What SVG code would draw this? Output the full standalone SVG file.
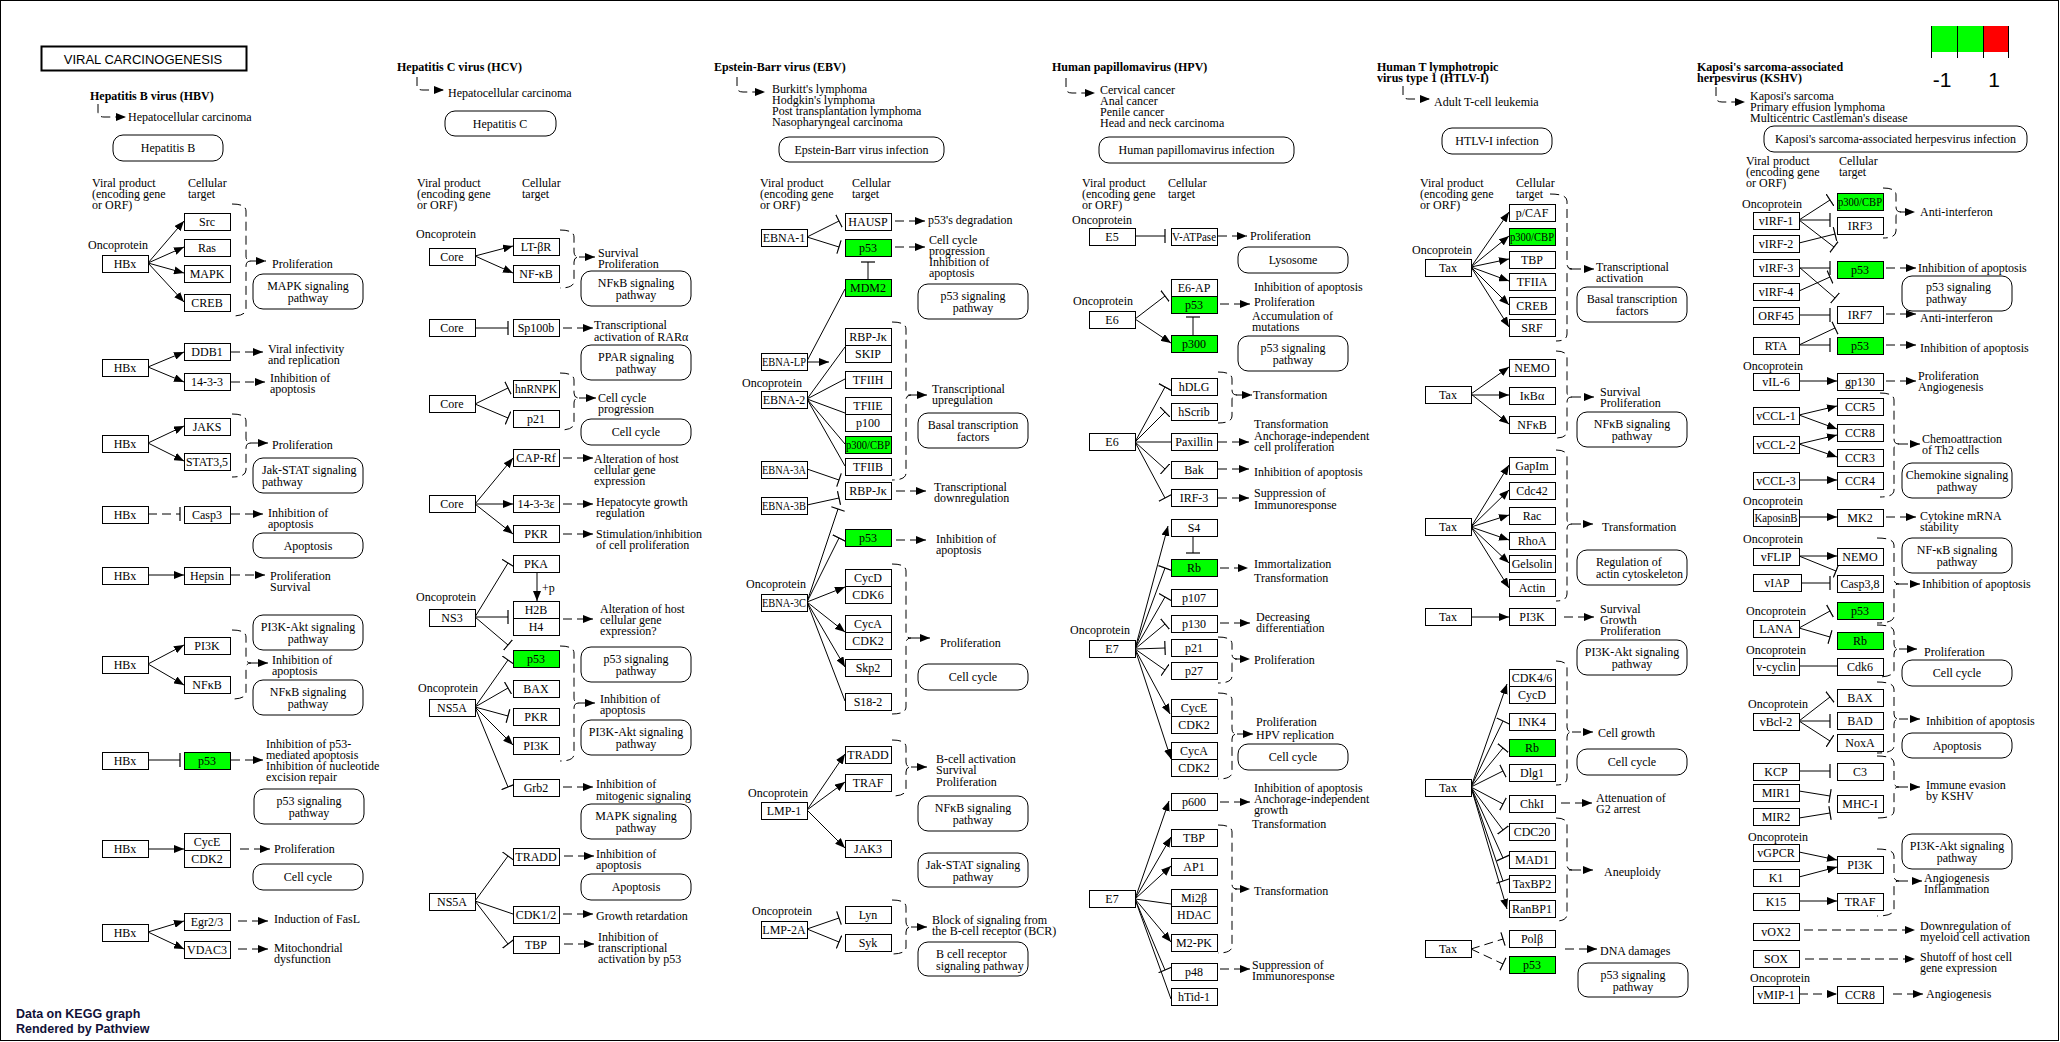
<svg xmlns="http://www.w3.org/2000/svg" width="2060" height="1042" viewBox="0 0 2060 1042">
<style>
.f{fill:#fff;stroke:#000;stroke-width:1;shape-rendering:crispEdges}
.gr{fill:#00ff00}
.pw{fill:#fff;stroke:#000;stroke-width:1}
text{font-family:"Liberation Serif","Times New Roman",serif;font-size:12px;fill:#000}
.m{text-anchor:middle}
.h{font-weight:bold}
.l{fill:none;stroke:#000;stroke-width:1}
.d{stroke-dasharray:9 5}
.a{marker-end:url(#ar)}
.i{marker-end:url(#ib)}
.sans{font-family:"Liberation Sans",Arial,sans-serif}
</style>
<defs>
<marker id="ar" viewBox="0 0 10 8" refX="10" refY="4" markerWidth="10" markerHeight="8" markerUnits="userSpaceOnUse" orient="auto"><path d="M0,0L10,4L0,8z" fill="#000"/></marker>
<marker id="ib" viewBox="-1 -7 2 14" refX="0" refY="0" markerWidth="2" markerHeight="14" markerUnits="userSpaceOnUse" orient="auto"><path d="M0,-7V7" stroke="#000" stroke-width="1.2" fill="none"/></marker>
</defs>
<rect x="0.5" y="0.5" width="2058" height="1040" fill="#fff" stroke="#000" stroke-width="1"/>
<g id="title"><rect x="41.5" y="46.5" width="205" height="24" fill="#fff" stroke="#000" stroke-width="2"/><text class="sans m" x="143" y="64" style="font-size:13px">VIRAL  CARCINOGENESIS</text></g>
<g id="legend"><rect x="1931" y="26" width="26" height="26" fill="#00ff00"/><rect x="1957" y="26" width="26" height="26" fill="#00ff00"/><rect x="1983" y="26" width="25" height="26" fill="#ff0000"/><path class="l" d="M1931.5,26V58M1957.5,26V58M1983.5,26V58M2008.5,26V58"/><text class="sans m" x="1942" y="87" style="font-size:21px">-1</text><text class="sans m" x="1994" y="87" style="font-size:21px">1</text></g>
<g id="footer"><text class="sans h" x="16" y="1018" style="font-size:12.5px;fill:#111138">Data on KEGG graph</text><text class="sans h" x="16" y="1033" style="font-size:12.5px;fill:#111138">Rendered by Pathview</text></g>

<g id="connectors">
<!-- HBV -->
<path class="l d a" d="M98,104V112Q98,117 104,117H126"/>
<path class="l a" d="M148,263L184,221"/><path class="l a" d="M148,263L184,247"/><path class="l a" d="M148,263L184,273"/><path class="l a" d="M148,263L184,302"/>
<path class="l d" d="M232,204Q246,204 246,211V256Q246,261 251,261Q246,261 246,266V309Q246,316 232,316"/><path class="l d a" d="M251,261H266"/>
<path class="l a" d="M148,367L184,352"/><path class="l a" d="M148,367L184,382"/>
<path class="l d a" d="M231,352H263"/><path class="l d a" d="M231,382H265"/>
<path class="l a" d="M148,443L184,426"/><path class="l a" d="M148,443L184,461"/>
<path class="l d" d="M232,414Q246,414 246,421V438Q246,443 251,443Q246,443 246,448V470Q246,477 232,477"/><path class="l d a" d="M251,443H268"/>
<path class="l d i" d="M148,514H180"/><path class="l d a" d="M231,514H263"/>
<path class="l a" d="M148,575H184"/><path class="l d a" d="M231,575H265"/>
<path class="l a" d="M148,664L184,645"/><path class="l a" d="M148,664L184,685"/>
<path class="l d" d="M232,630Q246,630 246,637V658Q246,663 251,663Q246,663 246,668V692Q246,699 232,699"/><path class="l d a" d="M251,663H268"/>
<path class="l i" d="M148,760H180"/><path class="l d a" d="M231,760H263"/>
<path class="l a" d="M148,849H184"/><path class="l d a" d="M240,849H270"/>
<path class="l a" d="M148,932L184,921"/><path class="l a" d="M148,932L184,949"/>
<path class="l d a" d="M238,921H268"/><path class="l d a" d="M238,949H268"/>
<!-- HCV -->
<path class="l d a" d="M417,77V86Q417,90 423,90H444"/>
<path class="l a" d="M475,256L513,246"/><path class="l a" d="M475,256L513,273"/>
<path class="l d" d="M560,230Q574,230 574,237V252Q574,257 579,257Q574,257 574,262V281Q574,288 560,288"/><path class="l d a" d="M579,257H595"/>
<path class="l i" d="M475,328H508"/><path class="l d a" d="M563,328H593"/>
<path class="l i" d="M475,404L508,388"/><path class="l i" d="M475,404L508,418"/>
<path class="l d" d="M560,373Q574,373 574,380V393Q574,398 579,398Q574,398 574,403V423Q574,430 560,430"/><path class="l d a" d="M579,398H596"/>
<path class="l a" d="M475,504L513,458"/><path class="l a" d="M475,504H513"/><path class="l a" d="M475,504L513,534"/>
<path class="l d a" d="M563,458H593"/><path class="l d a" d="M563,504H593"/><path class="l d a" d="M563,534H593"/>
<path class="l a" d="M537,572V601"/>
<path class="l i" d="M475,617L508,563"/><path class="l i" d="M475,617H508"/><path class="l i" d="M475,617L508,645"/>
<path class="l d a" d="M563,619H593"/>
<path class="l i" d="M475,707L508,660"/><path class="l i" d="M475,707L508,688"/><path class="l i" d="M475,707L508,716"/><path class="l a" d="M475,707L513,745"/><path class="l i" d="M475,707L508,787"/>
<path class="l d" d="M560,646Q574,646 574,653V698Q574,703 579,703Q574,703 574,708V754Q574,761 560,761"/><path class="l d a" d="M579,703H595"/>
<path class="l d a" d="M563,787H593"/>
<path class="l i" d="M475,901L508,856"/><path class="l" d="M475,901L513,914"/><path class="l i" d="M475,901L508,944"/>
<path class="l d a" d="M564,856H594"/><path class="l d a" d="M563,914H593"/><path class="l d a" d="M564,944H594"/>
<!-- EBV -->
<path class="l d a" d="M737,77V87Q737,92 743,92H765"/>
<path class="l i" d="M807,237L839,221"/><path class="l i" d="M807,237L839,247"/>
<path class="l d a" d="M895,221H925"/><path class="l d a" d="M895,247H925"/>
<path class="l i" d="M868,279V262"/>
<path class="l" d="M807,361L845,289"/><path class="l a" d="M807,362H829"/>
<path class="l" d="M807,399L845,347"/><path class="l" d="M807,399L845,379"/><path class="l" d="M807,399L845,413"/><path class="l" d="M807,399L845,444"/><path class="l" d="M807,399L845,466"/>
<path class="l d" d="M892,322Q906,322 906,329V390Q906,395 911,395Q906,395 906,400V473Q906,480 892,480"/><path class="l d a" d="M911,395H927"/>
<path class="l i" d="M807,469L839,480"/><path class="l i" d="M807,505L839,498"/>
<path class="l d a" d="M896,491H926"/>
<path class="l i" d="M807,602L838,509"/><path class="l i" d="M807,602L839,538"/>
<path class="l d a" d="M896,540H926"/>
<path class="l a" d="M807,602L845,587"/><path class="l a" d="M807,602L845,632"/><path class="l a" d="M807,602L845,667"/><path class="l" d="M807,602L845,701"/>
<path class="l d" d="M892,564Q906,564 906,571V633Q906,638 911,638Q906,638 906,643V707Q906,714 892,714"/><path class="l d a" d="M911,638H930"/>
<path class="l a" d="M807,810L845,754"/><path class="l a" d="M807,810L845,782"/><path class="l a" d="M807,810L845,848"/>
<path class="l d" d="M892,740Q906,740 906,747V762Q906,767 911,767Q906,767 906,772V789Q906,796 892,796"/><path class="l d a" d="M911,767H927"/>
<path class="l i" d="M807,929L839,918"/><path class="l i" d="M807,929L839,942"/>
<path class="l d" d="M892,900Q906,900 906,907V922Q906,927 911,927Q906,927 906,932V947Q906,954 892,954"/><path class="l d a" d="M911,927H927"/>
<!-- HPV -->
<path class="l d a" d="M1066,78V88Q1066,93 1072,93H1095"/>
<path class="l i" d="M1135,236H1165"/><path class="l d a" d="M1218,236H1247"/>
<path class="l i" d="M1135,319L1165,296"/><path class="l a" d="M1135,319L1171,343"/><path class="l i" d="M1193,335V317"/><path class="l d a" d="M1220,304H1250"/>
<path class="l i" d="M1135,442L1165,387"/><path class="l i" d="M1135,442L1165,412"/><path class="l" d="M1135,442H1171"/><path class="l i" d="M1135,442L1165,469"/><path class="l i" d="M1135,442L1165,498"/>
<path class="l d" d="M1218,372Q1232,372 1232,379V390Q1232,395 1237,395Q1232,395 1232,400V416Q1232,423 1218,423"/><path class="l d a" d="M1237,395H1252"/>
<path class="l d a" d="M1218,442H1249"/><path class="l d a" d="M1218,469H1249"/><path class="l d a" d="M1218,498H1249"/>
<path class="l i" d="M1193,536V553"/>
<path class="l a" d="M1135,649L1168,526"/><path class="l i" d="M1135,649L1165,568"/><path class="l i" d="M1135,649L1165,597"/><path class="l i" d="M1135,649L1165,624"/><path class="l i" d="M1135,649L1165,648"/><path class="l i" d="M1135,649L1165,670"/><path class="l a" d="M1135,649L1170,714"/><path class="l a" d="M1135,649L1171,759"/>
<path class="l d a" d="M1220,568H1248"/><path class="l d a" d="M1220,623H1250"/>
<path class="l d" d="M1218,637Q1232,637 1232,644V654Q1232,659 1237,659Q1232,659 1232,664V676Q1232,683 1218,683"/><path class="l d a" d="M1237,659H1250"/>
<path class="l d" d="M1218,693Q1232,693 1232,700V729Q1232,734 1237,734Q1232,734 1232,739V772Q1232,779 1218,779"/><path class="l d a" d="M1237,734H1253"/>
<path class="l a" d="M1135,899L1169,801"/><path class="l a" d="M1135,899L1171,837"/><path class="l a" d="M1135,899L1171,866"/><path class="l" d="M1135,899L1171,904"/><path class="l a" d="M1135,899L1171,942"/><path class="l i" d="M1135,899L1165,970"/><path class="l" d="M1135,899L1171,999"/>
<path class="l d a" d="M1220,802H1250"/>
<path class="l d" d="M1218,825Q1232,825 1232,832V884Q1232,889 1237,889Q1232,889 1232,894V946Q1232,953 1218,953"/><path class="l d a" d="M1237,889H1250"/>
<path class="l d a" d="M1220,969H1250"/>
<!-- HTLV -->
<path class="l d a" d="M1403,86V95Q1403,99 1409,99H1430"/>
<path class="l a" d="M1471,267L1509,212"/><path class="l a" d="M1471,267L1509,236"/><path class="l a" d="M1471,267L1509,259"/><path class="l a" d="M1471,267L1509,281"/><path class="l a" d="M1471,267L1509,305"/><path class="l a" d="M1471,267L1509,327"/>
<path class="l d" d="M1550,194Q1567,194 1567,201V264Q1567,269 1572,269Q1567,269 1567,274V334Q1567,341 1556,341"/><path class="l d a" d="M1572,269H1594"/>
<path class="l a" d="M1471,394L1509,367"/><path class="l a" d="M1471,395H1509"/><path class="l a" d="M1471,394L1509,424"/>
<path class="l d" d="M1556,351Q1567,351 1567,358V392Q1567,397 1572,397Q1567,397 1567,402V431Q1567,438 1556,438"/><path class="l d a" d="M1572,397H1594"/>
<path class="l a" d="M1471,527L1509,465"/><path class="l a" d="M1471,527L1509,490"/><path class="l a" d="M1471,527L1509,515"/><path class="l a" d="M1471,527L1509,540"/><path class="l a" d="M1471,527L1509,563"/><path class="l a" d="M1471,527L1509,588"/>
<path class="l d" d="M1556,450Q1567,450 1567,457V519Q1567,524 1572,524Q1567,524 1567,529V594Q1567,601 1556,601"/><path class="l d a" d="M1572,524H1593"/>
<path class="l a" d="M1471,617H1509"/><path class="l d a" d="M1564,617H1594"/>
<path class="l a" d="M1471,787L1507,684"/><path class="l i" d="M1471,787L1503,721"/><path class="l i" d="M1471,787L1503,748"/><path class="l i" d="M1471,787L1503,771"/><path class="l i" d="M1471,787L1503,804"/><path class="l i" d="M1471,787L1503,830"/><path class="l i" d="M1471,787L1503,858"/><path class="l i" d="M1471,787L1503,881"/><path class="l a" d="M1471,787L1507,909"/>
<path class="l d" d="M1556,661Q1567,661 1567,668V727Q1567,732 1572,732Q1567,732 1567,737V778Q1567,785 1556,785"/><path class="l d a" d="M1572,732H1593"/>
<path class="l d a" d="M1561,803H1592"/>
<path class="l d" d="M1556,818Q1567,818 1567,825V865Q1567,870 1572,870Q1567,870 1567,875V914Q1567,921 1556,921"/><path class="l d a" d="M1572,870H1593"/>
<path class="l d i" d="M1471,949L1503,939"/><path class="l d i" d="M1471,949L1503,964"/>
<path class="l d a" d="M1565,949H1597"/>
<!-- KSHV -->
<path class="l d a" d="M1716,87V97Q1716,102 1722,102H1745"/>
<path class="l i" d="M1799,220L1830,200"/><path class="l i" d="M1799,220H1830"/><path class="l i" d="M1799,220L1834,247"/>
<path class="l i" d="M1799,243L1835,234"/>
<path class="l i" d="M1799,268H1830"/><path class="l i" d="M1799,267L1835,298"/>
<path class="l i" d="M1799,291L1830,277"/>
<path class="l i" d="M1799,315H1830"/>
<path class="l i" d="M1799,345L1835,328"/><path class="l i" d="M1799,345H1830"/>
<path class="l d" d="M1883,188Q1896,188 1896,195V207Q1896,212 1901,212Q1896,212 1896,217V231Q1896,238 1883,238"/><path class="l d a" d="M1901,212H1915"/>
<path class="l d a" d="M1886,268H1916"/><path class="l d a" d="M1886,314H1916"/><path class="l d a" d="M1886,345H1916"/>
<path class="l a" d="M1799,381H1837"/><path class="l d a" d="M1886,381H1916"/>
<path class="l a" d="M1799,415L1837,406"/><path class="l a" d="M1799,415L1837,429"/><path class="l a" d="M1799,444L1837,435"/><path class="l a" d="M1799,444L1837,457"/><path class="l a" d="M1799,480H1837"/>
<path class="l d" d="M1880,393Q1894,393 1894,400V439Q1894,444 1899,444Q1894,444 1894,449V490Q1894,497 1880,497"/><path class="l d a" d="M1899,444H1920"/>
<path class="l a" d="M1799,517H1837"/><path class="l d a" d="M1886,517H1916"/>
<path class="l a" d="M1799,556H1837"/><path class="l i" d="M1799,556L1836,571"/><path class="l i" d="M1799,583H1830"/>
<path class="l d" d="M1877,538Q1894,538 1894,545V579Q1894,584 1899,584Q1894,584 1894,589V616Q1894,623 1877,623"/><path class="l d a" d="M1899,584H1920"/>
<path class="l i" d="M1799,628L1830,611"/><path class="l i" d="M1799,628L1830,637"/>
<path class="l" d="M1799,666H1837"/>
<path class="l d" d="M1877,625Q1894,625 1894,632V644Q1894,649 1899,649Q1894,649 1894,654V670Q1894,677 1877,677"/><path class="l d a" d="M1899,649H1917"/>
<path class="l i" d="M1799,721L1830,697"/><path class="l i" d="M1799,721H1830"/><path class="l i" d="M1799,721L1830,741"/>
<path class="l d" d="M1877,682Q1894,682 1894,689V714Q1894,719 1899,719Q1894,719 1894,724V746Q1894,753 1877,753"/><path class="l d a" d="M1899,719H1920"/>
<path class="l i" d="M1799,771H1830"/><path class="l i" d="M1799,791L1830,796"/><path class="l i" d="M1799,818L1830,813"/>
<path class="l d" d="M1877,756Q1894,756 1894,763V782Q1894,787 1899,787Q1894,787 1894,792V811Q1894,818 1877,818"/><path class="l d a" d="M1899,787H1920"/>
<path class="l a" d="M1799,852L1837,860"/><path class="l a" d="M1799,877L1837,867"/><path class="l a" d="M1799,901H1837"/>
<path class="l d" d="M1877,849Q1894,849 1894,856V876Q1894,881 1899,881Q1894,881 1894,886V909Q1894,916 1877,916"/><path class="l d a" d="M1899,881H1922"/>
<path class="l d a" d="M1804,930H1915"/><path class="l d a" d="M1805,959H1915"/>
<path class="l d a" d="M1799,994H1837"/><path class="l d a" d="M1893,994H1923"/>
</g>

<!-- HBV nodes -->
<g id="hbv-hbx1"><rect class="f" x="102" y="255" width="46" height="17"/><text class="m" x="125" y="268">HBx</text></g>
<g id="hbv-src"><rect class="f" x="184" y="213" width="46" height="17"/><text class="m" x="207" y="226">Src</text></g>
<g id="hbv-ras"><rect class="f" x="184" y="239" width="46" height="17"/><text class="m" x="207" y="252">Ras</text></g>
<g id="hbv-mapk"><rect class="f" x="184" y="265" width="46" height="17"/><text class="m" x="207" y="278">MAPK</text></g>
<g id="hbv-creb"><rect class="f" x="184" y="294" width="46" height="17"/><text class="m" x="207" y="307">CREB</text></g>
<g id="hbv-hbx2"><rect class="f" x="102" y="359" width="46" height="17"/><text class="m" x="125" y="372">HBx</text></g>
<g id="hbv-ddb1"><rect class="f" x="184" y="343" width="46" height="17"/><text class="m" x="207" y="356">DDB1</text></g>
<g id="hbv-1433"><rect class="f" x="184" y="373" width="46" height="17"/><text class="m" x="207" y="386">14-3-3</text></g>
<g id="hbv-hbx3"><rect class="f" x="102" y="435" width="46" height="17"/><text class="m" x="125" y="448">HBx</text></g>
<g id="hbv-jaks"><rect class="f" x="184" y="418" width="46" height="17"/><text class="m" x="207" y="431">JAKS</text></g>
<g id="hbv-stat35"><rect class="f" x="184" y="453" width="46" height="17"/><text class="m" x="207" y="466" textLength="42" lengthAdjust="spacingAndGlyphs">STAT3,5</text></g>
<g id="hbv-hbx4"><rect class="f" x="102" y="506" width="46" height="17"/><text class="m" x="125" y="519">HBx</text></g>
<g id="hbv-casp3"><rect class="f" x="184" y="506" width="46" height="17"/><text class="m" x="207" y="519">Casp3</text></g>
<g id="hbv-hbx5"><rect class="f" x="102" y="567" width="46" height="17"/><text class="m" x="125" y="580">HBx</text></g>
<g id="hbv-hepsin"><rect class="f" x="184" y="567" width="46" height="17"/><text class="m" x="207" y="580">Hepsin</text></g>
<g id="hbv-hbx6"><rect class="f" x="102" y="656" width="46" height="17"/><text class="m" x="125" y="669">HBx</text></g>
<g id="hbv-pi3k"><rect class="f" x="184" y="637" width="46" height="17"/><text class="m" x="207" y="650">PI3K</text></g>
<g id="hbv-nfkb"><rect class="f" x="184" y="676" width="46" height="17"/><text class="m" x="207" y="689">NFκB</text></g>
<g id="hbv-hbx7"><rect class="f" x="102" y="752" width="46" height="17"/><text class="m" x="125" y="765">HBx</text></g>
<g id="hbv-p53"><rect class="f gr" x="184" y="752" width="46" height="17"/><text class="m" x="207" y="765">p53</text></g>
<g id="hbv-hbx8"><rect class="f" x="102" y="840" width="46" height="17"/><text class="m" x="125" y="853">HBx</text></g>
<g id="hbv-cyce-cdk2"><rect class="f" x="184" y="833" width="46" height="17"/><text class="m" x="207" y="846">CycE</text><rect class="f" x="184" y="850" width="46" height="17"/><text class="m" x="207" y="863">CDK2</text></g>
<g id="hbv-hbx9"><rect class="f" x="102" y="924" width="46" height="17"/><text class="m" x="125" y="937">HBx</text></g>
<g id="hbv-egr23"><rect class="f" x="184" y="913" width="46" height="17"/><text class="m" x="207" y="926">Egr2/3</text></g>
<g id="hbv-vdac3"><rect class="f" x="184" y="941" width="46" height="17"/><text class="m" x="207" y="954">VDAC3</text></g>
<g id="pw-hepb"><rect class="pw" x="113" y="135" width="110" height="26" rx="10"/><text class="m" x="168" y="152">Hepatitis B</text></g>
<g id="pw-hbv-mapk"><rect class="pw" x="253" y="274" width="110" height="35" rx="10"/><text class="m"><tspan x="308" y="290">MAPK signaling</tspan><tspan x="308" y="301.5">pathway</tspan></text></g>
<g id="pw-hbv-jak"><rect class="pw" x="253" y="458" width="110" height="35" rx="10"/><text><tspan x="262" y="474">Jak-STAT signaling</tspan><tspan x="262" y="485.5">pathway</tspan></text></g>
<g id="pw-hbv-apop"><rect class="pw" x="253" y="533" width="110" height="25" rx="10"/><text class="m" x="308" y="549.5">Apoptosis</text></g>
<g id="pw-hbv-pi3k"><rect class="pw" x="253" y="615" width="110" height="35" rx="10"/><text class="m"><tspan x="308" y="631">PI3K-Akt signaling</tspan><tspan x="308" y="642.5">pathway</tspan></text></g>
<g id="pw-hbv-nfkb"><rect class="pw" x="253" y="680" width="110" height="35" rx="10"/><text class="m"><tspan x="308" y="696">NFκB signaling</tspan><tspan x="308" y="707.5">pathway</tspan></text></g>
<g id="pw-hbv-p53"><rect class="pw" x="254" y="789" width="110" height="35" rx="10"/><text class="m"><tspan x="309" y="805">p53 signaling</tspan><tspan x="309" y="816.5">pathway</tspan></text></g>
<g id="pw-hbv-cc"><rect class="pw" x="253" y="864" width="110" height="26" rx="10"/><text class="m" x="308" y="881">Cell cycle</text></g>

<!-- HCV nodes -->
<g id="hcv-core1"><rect class="f" x="429" y="248" width="46" height="17"/><text class="m" x="452" y="261">Core</text></g>
<g id="hcv-ltbr"><rect class="f" x="513" y="238" width="46" height="17"/><text class="m" x="536" y="251">LT-βR</text></g>
<g id="hcv-nfkb"><rect class="f" x="513" y="265" width="46" height="17"/><text class="m" x="536" y="278">NF-κB</text></g>
<g id="hcv-core2"><rect class="f" x="429" y="319" width="46" height="17"/><text class="m" x="452" y="332">Core</text></g>
<g id="hcv-sp100b"><rect class="f" x="513" y="319" width="46" height="17"/><text class="m" x="536" y="332">Sp100b</text></g>
<g id="hcv-core3"><rect class="f" x="429" y="395" width="46" height="17"/><text class="m" x="452" y="408">Core</text></g>
<g id="hcv-hnrnpk"><rect class="f" x="513" y="380" width="46" height="17"/><text class="m" x="536" y="393" textLength="42" lengthAdjust="spacingAndGlyphs">hnRNPK</text></g>
<g id="hcv-p21"><rect class="f" x="513" y="410" width="46" height="17"/><text class="m" x="536" y="423">p21</text></g>
<g id="hcv-core4"><rect class="f" x="429" y="495" width="46" height="17"/><text class="m" x="452" y="508">Core</text></g>
<g id="hcv-caprf"><rect class="f" x="513" y="449" width="46" height="17"/><text class="m" x="536" y="462">CAP-Rf</text></g>
<g id="hcv-1433e"><rect class="f" x="513" y="495" width="46" height="17"/><text class="m" x="536" y="508">14-3-3ε</text></g>
<g id="hcv-pkr1"><rect class="f" x="513" y="525" width="46" height="17"/><text class="m" x="536" y="538">PKR</text></g>
<g id="hcv-pka"><rect class="f" x="513" y="555" width="46" height="17"/><text class="m" x="536" y="568">PKA</text></g>
<g id="hcv-h2b-h4"><rect class="f" x="513" y="601" width="46" height="17"/><text class="m" x="536" y="614">H2B</text><rect class="f" x="513" y="618" width="46" height="17"/><text class="m" x="536" y="631">H4</text></g>
<g id="hcv-ns3"><rect class="f" x="429" y="609" width="46" height="17"/><text class="m" x="452" y="622">NS3</text></g>
<g id="hcv-p53"><rect class="f gr" x="513" y="650" width="46" height="17"/><text class="m" x="536" y="663">p53</text></g>
<g id="hcv-ns5a1"><rect class="f" x="429" y="699" width="46" height="17"/><text class="m" x="452" y="712">NS5A</text></g>
<g id="hcv-bax"><rect class="f" x="513" y="680" width="46" height="17"/><text class="m" x="536" y="693">BAX</text></g>
<g id="hcv-pkr2"><rect class="f" x="513" y="708" width="46" height="17"/><text class="m" x="536" y="721">PKR</text></g>
<g id="hcv-pi3k"><rect class="f" x="513" y="737" width="46" height="17"/><text class="m" x="536" y="750">PI3K</text></g>
<g id="hcv-grb2"><rect class="f" x="513" y="779" width="46" height="17"/><text class="m" x="536" y="792">Grb2</text></g>
<g id="hcv-ns5a2"><rect class="f" x="429" y="893" width="46" height="17"/><text class="m" x="452" y="906">NS5A</text></g>
<g id="hcv-tradd"><rect class="f" x="513" y="848" width="46" height="17"/><text class="m" x="536" y="861">TRADD</text></g>
<g id="hcv-cdk12"><rect class="f" x="513" y="906" width="46" height="17"/><text class="m" x="536" y="919">CDK1/2</text></g>
<g id="hcv-tbp"><rect class="f" x="513" y="936" width="46" height="17"/><text class="m" x="536" y="949">TBP</text></g>
<g id="pw-hepc"><rect class="pw" x="445" y="111" width="111" height="25" rx="10"/><text class="m" x="500" y="128">Hepatitis C</text></g>
<g id="pw-hcv-nfkb"><rect class="pw" x="581" y="271" width="110" height="35" rx="10"/><text class="m"><tspan x="636" y="287">NFκB signaling</tspan><tspan x="636" y="298.5">pathway</tspan></text></g>
<g id="pw-hcv-ppar"><rect class="pw" x="581" y="345" width="110" height="35" rx="10"/><text class="m"><tspan x="636" y="361">PPAR signaling</tspan><tspan x="636" y="372.5">pathway</tspan></text></g>
<g id="pw-hcv-cc"><rect class="pw" x="581" y="419" width="110" height="26" rx="10"/><text class="m" x="636" y="436">Cell cycle</text></g>
<g id="pw-hcv-p53"><rect class="pw" x="581" y="647" width="110" height="35" rx="10"/><text class="m"><tspan x="636" y="663">p53 signaling</tspan><tspan x="636" y="674.5">pathway</tspan></text></g>
<g id="pw-hcv-pi3k"><rect class="pw" x="581" y="720" width="110" height="35" rx="10"/><text class="m"><tspan x="636" y="736">PI3K-Akt signaling</tspan><tspan x="636" y="747.5">pathway</tspan></text></g>
<g id="pw-hcv-mapk"><rect class="pw" x="581" y="804" width="110" height="35" rx="10"/><text class="m"><tspan x="636" y="820">MAPK signaling</tspan><tspan x="636" y="831.5">pathway</tspan></text></g>
<g id="pw-hcv-apop"><rect class="pw" x="581" y="874" width="110" height="26" rx="10"/><text class="m" x="636" y="891">Apoptosis</text></g>

<!-- EBV nodes -->
<g id="ebv-ebna1"><rect class="f" x="761" y="229" width="46" height="17"/><text class="m" x="784" y="242">EBNA-1</text></g>
<g id="ebv-hausp"><rect class="f" x="845" y="213" width="46" height="17"/><text class="m" x="868" y="226">HAUSP</text></g>
<g id="ebv-p53a"><rect class="f gr" x="845" y="239" width="46" height="17"/><text class="m" x="868" y="252">p53</text></g>
<g id="ebv-mdm2"><rect class="f gr" x="845" y="279" width="46" height="17"/><text class="m" x="868" y="292">MDM2</text></g>
<g id="ebv-ebnalp"><rect class="f" x="761" y="353" width="46" height="17"/><text class="m" x="784" y="366" textLength="44" lengthAdjust="spacingAndGlyphs">EBNA-LP</text></g>
<g id="ebv-ebna2"><rect class="f" x="761" y="391" width="46" height="17"/><text class="m" x="784" y="404">EBNA-2</text></g>
<g id="ebv-rbpjk-skip"><rect class="f" x="845" y="328" width="46" height="17"/><text class="m" x="868" y="341">RBP-Jκ</text><rect class="f" x="845" y="345" width="46" height="17"/><text class="m" x="868" y="358">SKIP</text></g>
<g id="ebv-tfiih"><rect class="f" x="845" y="371" width="46" height="17"/><text class="m" x="868" y="384">TFIIH</text></g>
<g id="ebv-tfiie-p100"><rect class="f" x="845" y="397" width="46" height="17"/><text class="m" x="868" y="410">TFIIE</text><rect class="f" x="845" y="414" width="46" height="17"/><text class="m" x="868" y="427">p100</text></g>
<g id="ebv-p300cbp"><rect class="f gr" x="845" y="436" width="46" height="17"/><text class="m" x="868" y="449" textLength="44" lengthAdjust="spacingAndGlyphs">p300/CBP</text></g>
<g id="ebv-tfiib"><rect class="f" x="845" y="458" width="46" height="17"/><text class="m" x="868" y="471">TFIIB</text></g>
<g id="ebv-ebna3a"><rect class="f" x="761" y="461" width="46" height="17"/><text class="m" x="784" y="474" textLength="44" lengthAdjust="spacingAndGlyphs">EBNA-3A</text></g>
<g id="ebv-rbpjk2"><rect class="f" x="845" y="482" width="46" height="17"/><text class="m" x="868" y="495">RBP-Jκ</text></g>
<g id="ebv-ebna3b"><rect class="f" x="761" y="497" width="46" height="17"/><text class="m" x="784" y="510" textLength="44" lengthAdjust="spacingAndGlyphs">EBNA-3B</text></g>
<g id="ebv-p53b"><rect class="f gr" x="845" y="529" width="46" height="17"/><text class="m" x="868" y="542">p53</text></g>
<g id="ebv-ebna3c"><rect class="f" x="761" y="594" width="46" height="17"/><text class="m" x="784" y="607" textLength="44" lengthAdjust="spacingAndGlyphs">EBNA-3C</text></g>
<g id="ebv-cycd-cdk6"><rect class="f" x="845" y="569" width="46" height="17"/><text class="m" x="868" y="582">CycD</text><rect class="f" x="845" y="586" width="46" height="17"/><text class="m" x="868" y="599">CDK6</text></g>
<g id="ebv-cyca-cdk2"><rect class="f" x="845" y="615" width="46" height="17"/><text class="m" x="868" y="628">CycA</text><rect class="f" x="845" y="632" width="46" height="17"/><text class="m" x="868" y="645">CDK2</text></g>
<g id="ebv-skp2"><rect class="f" x="845" y="659" width="46" height="17"/><text class="m" x="868" y="672">Skp2</text></g>
<g id="ebv-s182"><rect class="f" x="845" y="693" width="46" height="17"/><text class="m" x="868" y="706">S18-2</text></g>
<g id="ebv-lmp1"><rect class="f" x="761" y="802" width="46" height="17"/><text class="m" x="784" y="815">LMP-1</text></g>
<g id="ebv-tradd"><rect class="f" x="845" y="746" width="46" height="17"/><text class="m" x="868" y="759">TRADD</text></g>
<g id="ebv-traf"><rect class="f" x="845" y="774" width="46" height="17"/><text class="m" x="868" y="787">TRAF</text></g>
<g id="ebv-jak3"><rect class="f" x="845" y="840" width="46" height="17"/><text class="m" x="868" y="853">JAK3</text></g>
<g id="ebv-lmp2a"><rect class="f" x="761" y="921" width="46" height="17"/><text class="m" x="784" y="934">LMP-2A</text></g>
<g id="ebv-lyn"><rect class="f" x="845" y="906" width="46" height="17"/><text class="m" x="868" y="919">Lyn</text></g>
<g id="ebv-syk"><rect class="f" x="845" y="934" width="46" height="17"/><text class="m" x="868" y="947">Syk</text></g>
<g id="pw-ebv"><rect class="pw" x="779" y="137" width="165" height="25" rx="10"/><text class="m" x="861.5" y="154">Epstein-Barr virus infection</text></g>
<g id="pw-ebv-p53"><rect class="pw" x="918" y="284" width="110" height="35" rx="10"/><text class="m"><tspan x="973" y="300">p53 signaling</tspan><tspan x="973" y="311.5">pathway</tspan></text></g>
<g id="pw-ebv-btf"><rect class="pw" x="918" y="413" width="110" height="35" rx="10"/><text class="m"><tspan x="973" y="429">Basal transcription</tspan><tspan x="973" y="440.5">factors</tspan></text></g>
<g id="pw-ebv-cc"><rect class="pw" x="918" y="664" width="110" height="26" rx="10"/><text class="m" x="973" y="681">Cell cycle</text></g>
<g id="pw-ebv-nfkb"><rect class="pw" x="918" y="796" width="110" height="35" rx="10"/><text class="m"><tspan x="973" y="812">NFκB signaling</tspan><tspan x="973" y="823.5">pathway</tspan></text></g>
<g id="pw-ebv-jak"><rect class="pw" x="918" y="853" width="110" height="34" rx="10"/><text class="m"><tspan x="973" y="869">Jak-STAT signaling</tspan><tspan x="973" y="880.5">pathway</tspan></text></g>
<g id="pw-ebv-bcr"><rect class="pw" x="918" y="942" width="110" height="34" rx="10"/><text><tspan x="936" y="958">B cell receptor</tspan><tspan x="936" y="969.5">signaling pathway</tspan></text></g>

<!-- HPV nodes -->
<g id="hpv-e5"><rect class="f" x="1089" y="228" width="46" height="17"/><text class="m" x="1112" y="241">E5</text></g>
<g id="hpv-vatpase"><rect class="f" x="1171" y="228" width="46" height="17"/><text class="m" x="1194" y="241" textLength="44" lengthAdjust="spacingAndGlyphs">V-ATPase</text></g>
<g id="hpv-e6a"><rect class="f" x="1089" y="311" width="46" height="17"/><text class="m" x="1112" y="324">E6</text></g>
<g id="hpv-e6ap-p53"><rect class="f" x="1171" y="279" width="46" height="17"/><text class="m" x="1194" y="292">E6-AP</text><rect class="f gr" x="1171" y="296" width="46" height="17"/><text class="m" x="1194" y="309">p53</text></g>
<g id="hpv-p300"><rect class="f gr" x="1171" y="335" width="46" height="17"/><text class="m" x="1194" y="348">p300</text></g>
<g id="hpv-hdlg"><rect class="f" x="1171" y="378" width="46" height="17"/><text class="m" x="1194" y="391">hDLG</text></g>
<g id="hpv-hscrib"><rect class="f" x="1171" y="403" width="46" height="17"/><text class="m" x="1194" y="416">hScrib</text></g>
<g id="hpv-e6b"><rect class="f" x="1089" y="433" width="46" height="17"/><text class="m" x="1112" y="446">E6</text></g>
<g id="hpv-paxillin"><rect class="f" x="1171" y="433" width="46" height="17"/><text class="m" x="1194" y="446">Paxillin</text></g>
<g id="hpv-bak"><rect class="f" x="1171" y="461" width="46" height="17"/><text class="m" x="1194" y="474">Bak</text></g>
<g id="hpv-irf3"><rect class="f" x="1171" y="489" width="46" height="17"/><text class="m" x="1194" y="502">IRF-3</text></g>
<g id="hpv-s4"><rect class="f" x="1171" y="519" width="46" height="17"/><text class="m" x="1194" y="532">S4</text></g>
<g id="hpv-rb"><rect class="f gr" x="1171" y="559" width="46" height="17"/><text class="m" x="1194" y="572">Rb</text></g>
<g id="hpv-p107"><rect class="f" x="1171" y="589" width="46" height="17"/><text class="m" x="1194" y="602">p107</text></g>
<g id="hpv-p130"><rect class="f" x="1171" y="615" width="46" height="17"/><text class="m" x="1194" y="628">p130</text></g>
<g id="hpv-p21"><rect class="f" x="1171" y="639" width="46" height="17"/><text class="m" x="1194" y="652">p21</text></g>
<g id="hpv-p27"><rect class="f" x="1171" y="662" width="46" height="17"/><text class="m" x="1194" y="675">p27</text></g>
<g id="hpv-cyce-cdk2"><rect class="f" x="1171" y="699" width="46" height="17"/><text class="m" x="1194" y="712">CycE</text><rect class="f" x="1171" y="716" width="46" height="17"/><text class="m" x="1194" y="729">CDK2</text></g>
<g id="hpv-cyca-cdk2"><rect class="f" x="1171" y="742" width="46" height="17"/><text class="m" x="1194" y="755">CycA</text><rect class="f" x="1171" y="759" width="46" height="17"/><text class="m" x="1194" y="772">CDK2</text></g>
<g id="hpv-e7a"><rect class="f" x="1089" y="640" width="46" height="17"/><text class="m" x="1112" y="653">E7</text></g>
<g id="hpv-p600"><rect class="f" x="1171" y="793" width="46" height="17"/><text class="m" x="1194" y="806">p600</text></g>
<g id="hpv-tbp"><rect class="f" x="1171" y="829" width="46" height="17"/><text class="m" x="1194" y="842">TBP</text></g>
<g id="hpv-ap1"><rect class="f" x="1171" y="858" width="46" height="17"/><text class="m" x="1194" y="871">AP1</text></g>
<g id="hpv-mi2b-hdac"><rect class="f" x="1171" y="889" width="46" height="17"/><text class="m" x="1194" y="902">Mi2β</text><rect class="f" x="1171" y="906" width="46" height="17"/><text class="m" x="1194" y="919">HDAC</text></g>
<g id="hpv-m2pk"><rect class="f" x="1171" y="934" width="46" height="17"/><text class="m" x="1194" y="947">M2-PK</text></g>
<g id="hpv-p48"><rect class="f" x="1171" y="963" width="46" height="17"/><text class="m" x="1194" y="976">p48</text></g>
<g id="hpv-htid1"><rect class="f" x="1171" y="988" width="46" height="17"/><text class="m" x="1194" y="1001">hTid-1</text></g>
<g id="hpv-e7b"><rect class="f" x="1089" y="890" width="46" height="17"/><text class="m" x="1112" y="903">E7</text></g>
<g id="pw-hpv"><rect class="pw" x="1099" y="137" width="195" height="26" rx="10"/><text class="m" x="1196.5" y="154">Human papillomavirus infection</text></g>
<g id="pw-hpv-lyso"><rect class="pw" x="1238" y="247" width="110" height="26" rx="10"/><text class="m" x="1293" y="264">Lysosome</text></g>
<g id="pw-hpv-p53"><rect class="pw" x="1238" y="336" width="110" height="35" rx="10"/><text class="m"><tspan x="1293" y="352">p53 signaling</tspan><tspan x="1293" y="363.5">pathway</tspan></text></g>
<g id="pw-hpv-cc"><rect class="pw" x="1238" y="744" width="110" height="26" rx="10"/><text class="m" x="1293" y="761">Cell cycle</text></g>

<!-- HTLV nodes -->
<g id="htlv-tax1"><rect class="f" x="1425" y="259" width="46" height="17"/><text class="m" x="1448" y="272">Tax</text></g>
<g id="htlv-pcaf"><rect class="f" x="1509" y="204" width="46" height="17"/><text class="m" x="1532" y="217">p/CAF</text></g>
<g id="htlv-p300cbp"><rect class="f gr" x="1509" y="228" width="46" height="17"/><text class="m" x="1532" y="241" textLength="44" lengthAdjust="spacingAndGlyphs">p300/CBP</text></g>
<g id="htlv-tbp"><rect class="f" x="1509" y="251" width="46" height="17"/><text class="m" x="1532" y="264">TBP</text></g>
<g id="htlv-tfiia"><rect class="f" x="1509" y="273" width="46" height="17"/><text class="m" x="1532" y="286">TFIIA</text></g>
<g id="htlv-creb"><rect class="f" x="1509" y="297" width="46" height="17"/><text class="m" x="1532" y="310">CREB</text></g>
<g id="htlv-srf"><rect class="f" x="1509" y="319" width="46" height="17"/><text class="m" x="1532" y="332">SRF</text></g>
<g id="htlv-tax2"><rect class="f" x="1425" y="386" width="46" height="17"/><text class="m" x="1448" y="399">Tax</text></g>
<g id="htlv-nemo"><rect class="f" x="1509" y="359" width="46" height="17"/><text class="m" x="1532" y="372">NEMO</text></g>
<g id="htlv-ikba"><rect class="f" x="1509" y="387" width="46" height="17"/><text class="m" x="1532" y="400">IκBα</text></g>
<g id="htlv-nfkb"><rect class="f" x="1509" y="416" width="46" height="17"/><text class="m" x="1532" y="429">NFκB</text></g>
<g id="htlv-tax3"><rect class="f" x="1425" y="518" width="46" height="17"/><text class="m" x="1448" y="531">Tax</text></g>
<g id="htlv-gapim"><rect class="f" x="1509" y="457" width="46" height="17"/><text class="m" x="1532" y="470">GapIm</text></g>
<g id="htlv-cdc42"><rect class="f" x="1509" y="482" width="46" height="17"/><text class="m" x="1532" y="495">Cdc42</text></g>
<g id="htlv-rac"><rect class="f" x="1509" y="507" width="46" height="17"/><text class="m" x="1532" y="520">Rac</text></g>
<g id="htlv-rhoa"><rect class="f" x="1509" y="532" width="46" height="17"/><text class="m" x="1532" y="545">RhoA</text></g>
<g id="htlv-gelsolin"><rect class="f" x="1509" y="555" width="46" height="17"/><text class="m" x="1532" y="568">Gelsolin</text></g>
<g id="htlv-actin"><rect class="f" x="1509" y="579" width="46" height="17"/><text class="m" x="1532" y="592">Actin</text></g>
<g id="htlv-tax4"><rect class="f" x="1425" y="608" width="46" height="17"/><text class="m" x="1448" y="621">Tax</text></g>
<g id="htlv-pi3k"><rect class="f" x="1509" y="608" width="46" height="17"/><text class="m" x="1532" y="621">PI3K</text></g>
<g id="htlv-tax5"><rect class="f" x="1425" y="779" width="46" height="17"/><text class="m" x="1448" y="792">Tax</text></g>
<g id="htlv-cdk46-cycd"><rect class="f" x="1509" y="669" width="46" height="17"/><text class="m" x="1532" y="682">CDK4/6</text><rect class="f" x="1509" y="686" width="46" height="17"/><text class="m" x="1532" y="699">CycD</text></g>
<g id="htlv-ink4"><rect class="f" x="1509" y="713" width="46" height="17"/><text class="m" x="1532" y="726">INK4</text></g>
<g id="htlv-rb"><rect class="f gr" x="1509" y="739" width="46" height="17"/><text class="m" x="1532" y="752">Rb</text></g>
<g id="htlv-dlg1"><rect class="f" x="1509" y="764" width="46" height="17"/><text class="m" x="1532" y="777">Dlg1</text></g>
<g id="htlv-chk1"><rect class="f" x="1509" y="795" width="46" height="17"/><text class="m" x="1532" y="808">ChkI</text></g>
<g id="htlv-cdc20"><rect class="f" x="1509" y="823" width="46" height="17"/><text class="m" x="1532" y="836">CDC20</text></g>
<g id="htlv-mad1"><rect class="f" x="1509" y="851" width="46" height="17"/><text class="m" x="1532" y="864">MAD1</text></g>
<g id="htlv-taxbp2"><rect class="f" x="1509" y="875" width="46" height="17"/><text class="m" x="1532" y="888">TaxBP2</text></g>
<g id="htlv-ranbp1"><rect class="f" x="1509" y="900" width="46" height="17"/><text class="m" x="1532" y="913">RanBP1</text></g>
<g id="htlv-tax6"><rect class="f" x="1425" y="940" width="46" height="17"/><text class="m" x="1448" y="953">Tax</text></g>
<g id="htlv-polb"><rect class="f" x="1509" y="930" width="46" height="17"/><text class="m" x="1532" y="943">Polβ</text></g>
<g id="htlv-p53"><rect class="f gr" x="1509" y="956" width="46" height="17"/><text class="m" x="1532" y="969">p53</text></g>
<g id="pw-htlv"><rect class="pw" x="1442" y="128" width="110" height="26" rx="10"/><text class="m" x="1497" y="145">HTLV-I infection</text></g>
<g id="pw-htlv-btf"><rect class="pw" x="1577" y="287" width="110" height="35" rx="10"/><text class="m"><tspan x="1632" y="303">Basal transcription</tspan><tspan x="1632" y="314.5">factors</tspan></text></g>
<g id="pw-htlv-nfkb"><rect class="pw" x="1577" y="412" width="110" height="35" rx="10"/><text class="m"><tspan x="1632" y="428">NFκB signaling</tspan><tspan x="1632" y="439.5">pathway</tspan></text></g>
<g id="pw-htlv-actin"><rect class="pw" x="1577" y="550" width="110" height="35" rx="10"/><text><tspan x="1596" y="566">Regulation of</tspan><tspan x="1596" y="577.5">actin cytoskeleton</tspan></text></g>
<g id="pw-htlv-pi3k"><rect class="pw" x="1577" y="640" width="110" height="35" rx="10"/><text class="m"><tspan x="1632" y="656">PI3K-Akt signaling</tspan><tspan x="1632" y="667.5">pathway</tspan></text></g>
<g id="pw-htlv-cc"><rect class="pw" x="1577" y="749" width="110" height="26" rx="10"/><text class="m" x="1632" y="766">Cell cycle</text></g>
<g id="pw-htlv-p53"><rect class="pw" x="1578" y="963" width="110" height="34" rx="10"/><text class="m"><tspan x="1633" y="979">p53 signaling</tspan><tspan x="1633" y="990.5">pathway</tspan></text></g>

<!-- KSHV nodes -->
<g id="kshv-virf1"><rect class="f" x="1753" y="212" width="46" height="17"/><text class="m" x="1776" y="225">vIRF-1</text></g>
<g id="kshv-virf2"><rect class="f" x="1753" y="235" width="46" height="17"/><text class="m" x="1776" y="248">vIRF-2</text></g>
<g id="kshv-virf3"><rect class="f" x="1753" y="259" width="46" height="17"/><text class="m" x="1776" y="272">vIRF-3</text></g>
<g id="kshv-virf4"><rect class="f" x="1753" y="283" width="46" height="17"/><text class="m" x="1776" y="296">vIRF-4</text></g>
<g id="kshv-orf45"><rect class="f" x="1753" y="307" width="46" height="17"/><text class="m" x="1776" y="320">ORF45</text></g>
<g id="kshv-rta"><rect class="f" x="1753" y="337" width="46" height="17"/><text class="m" x="1776" y="350">RTA</text></g>
<g id="kshv-p300cbp"><rect class="f gr" x="1837" y="193" width="46" height="17"/><text class="m" x="1860" y="206" textLength="44" lengthAdjust="spacingAndGlyphs">p300/CBP</text></g>
<g id="kshv-irf3"><rect class="f" x="1837" y="217" width="46" height="17"/><text class="m" x="1860" y="230">IRF3</text></g>
<g id="kshv-p53a"><rect class="f gr" x="1837" y="261" width="46" height="17"/><text class="m" x="1860" y="274">p53</text></g>
<g id="kshv-irf7"><rect class="f" x="1837" y="306" width="46" height="17"/><text class="m" x="1860" y="319">IRF7</text></g>
<g id="kshv-p53b"><rect class="f gr" x="1837" y="337" width="46" height="17"/><text class="m" x="1860" y="350">p53</text></g>
<g id="kshv-vil6"><rect class="f" x="1753" y="373" width="46" height="17"/><text class="m" x="1776" y="386">vIL-6</text></g>
<g id="kshv-gp130"><rect class="f" x="1837" y="373" width="46" height="17"/><text class="m" x="1860" y="386">gp130</text></g>
<g id="kshv-vccl1"><rect class="f" x="1753" y="407" width="46" height="17"/><text class="m" x="1776" y="420">vCCL-1</text></g>
<g id="kshv-vccl2"><rect class="f" x="1753" y="436" width="46" height="17"/><text class="m" x="1776" y="449">vCCL-2</text></g>
<g id="kshv-vccl3"><rect class="f" x="1753" y="472" width="46" height="17"/><text class="m" x="1776" y="485">vCCL-3</text></g>
<g id="kshv-ccr5"><rect class="f" x="1837" y="398" width="46" height="17"/><text class="m" x="1860" y="411">CCR5</text></g>
<g id="kshv-ccr8"><rect class="f" x="1837" y="424" width="46" height="17"/><text class="m" x="1860" y="437">CCR8</text></g>
<g id="kshv-ccr3"><rect class="f" x="1837" y="449" width="46" height="17"/><text class="m" x="1860" y="462">CCR3</text></g>
<g id="kshv-ccr4"><rect class="f" x="1837" y="472" width="46" height="17"/><text class="m" x="1860" y="485">CCR4</text></g>
<g id="kshv-kaposinb"><rect class="f" x="1753" y="509" width="46" height="17"/><text class="m" x="1776" y="522" textLength="43" lengthAdjust="spacingAndGlyphs">KaposinB</text></g>
<g id="kshv-mk2"><rect class="f" x="1837" y="509" width="46" height="17"/><text class="m" x="1860" y="522">MK2</text></g>
<g id="kshv-vflip"><rect class="f" x="1753" y="548" width="46" height="17"/><text class="m" x="1776" y="561">vFLIP</text></g>
<g id="kshv-viap"><rect class="f" x="1753" y="574" width="48" height="17"/><text class="m" x="1777" y="587">vIAP</text></g>
<g id="kshv-nemo"><rect class="f" x="1837" y="548" width="46" height="17"/><text class="m" x="1860" y="561">NEMO</text></g>
<g id="kshv-casp38"><rect class="f" x="1837" y="575" width="46" height="17"/><text class="m" x="1860" y="588">Casp3,8</text></g>
<g id="kshv-lana"><rect class="f" x="1753" y="620" width="46" height="17"/><text class="m" x="1776" y="633">LANA</text></g>
<g id="kshv-p53c"><rect class="f gr" x="1837" y="602" width="46" height="17"/><text class="m" x="1860" y="615">p53</text></g>
<g id="kshv-rb"><rect class="f gr" x="1837" y="632" width="46" height="17"/><text class="m" x="1860" y="645">Rb</text></g>
<g id="kshv-vcyclin"><rect class="f" x="1753" y="658" width="46" height="17"/><text class="m" x="1776" y="671">v-cyclin</text></g>
<g id="kshv-cdk6"><rect class="f" x="1837" y="658" width="46" height="17"/><text class="m" x="1860" y="671">Cdk6</text></g>
<g id="kshv-vbcl2"><rect class="f" x="1753" y="713" width="46" height="17"/><text class="m" x="1776" y="726">vBcl-2</text></g>
<g id="kshv-bax"><rect class="f" x="1837" y="689" width="46" height="17"/><text class="m" x="1860" y="702">BAX</text></g>
<g id="kshv-bad"><rect class="f" x="1837" y="712" width="46" height="17"/><text class="m" x="1860" y="725">BAD</text></g>
<g id="kshv-noxa"><rect class="f" x="1837" y="734" width="46" height="17"/><text class="m" x="1860" y="747">NoxA</text></g>
<g id="kshv-kcp"><rect class="f" x="1753" y="763" width="46" height="17"/><text class="m" x="1776" y="776">KCP</text></g>
<g id="kshv-c3"><rect class="f" x="1837" y="763" width="46" height="17"/><text class="m" x="1860" y="776">C3</text></g>
<g id="kshv-mir1"><rect class="f" x="1753" y="784" width="46" height="17"/><text class="m" x="1776" y="797">MIR1</text></g>
<g id="kshv-mir2"><rect class="f" x="1753" y="808" width="46" height="17"/><text class="m" x="1776" y="821">MIR2</text></g>
<g id="kshv-mhc1"><rect class="f" x="1837" y="795" width="46" height="17"/><text class="m" x="1860" y="808">MHC-I</text></g>
<g id="kshv-vgpcr"><rect class="f" x="1753" y="844" width="46" height="17"/><text class="m" x="1776" y="857">vGPCR</text></g>
<g id="kshv-k1"><rect class="f" x="1753" y="869" width="46" height="17"/><text class="m" x="1776" y="882">K1</text></g>
<g id="kshv-k15"><rect class="f" x="1753" y="893" width="46" height="17"/><text class="m" x="1776" y="906">K15</text></g>
<g id="kshv-pi3k"><rect class="f" x="1837" y="856" width="46" height="17"/><text class="m" x="1860" y="869">PI3K</text></g>
<g id="kshv-traf"><rect class="f" x="1837" y="893" width="46" height="17"/><text class="m" x="1860" y="906">TRAF</text></g>
<g id="kshv-vox2"><rect class="f" x="1753" y="923" width="46" height="17"/><text class="m" x="1776" y="936">vOX2</text></g>
<g id="kshv-sox"><rect class="f" x="1753" y="950" width="46" height="17"/><text class="m" x="1776" y="963">SOX</text></g>
<g id="kshv-vmip1"><rect class="f" x="1753" y="986" width="46" height="17"/><text class="m" x="1776" y="999">vMIP-1</text></g>
<g id="kshv-ccr8b"><rect class="f" x="1837" y="986" width="46" height="17"/><text class="m" x="1860" y="999">CCR8</text></g>
<g id="pw-kshv"><rect class="pw" x="1764" y="126" width="263" height="26" rx="10"/><text class="m" x="1895.5" y="143">Kaposi's sarcoma-associated herpesvirus infection</text></g>
<g id="pw-kshv-p53"><rect class="pw" x="1902" y="276" width="110" height="35" rx="10"/><text><tspan x="1926" y="291">p53 signaling</tspan><tspan x="1926" y="302.5">pathway</tspan></text></g>
<g id="pw-kshv-chemo"><rect class="pw" x="1902" y="463" width="110" height="35" rx="10"/><text class="m"><tspan x="1957" y="479">Chemokine signaling</tspan><tspan x="1957" y="490.5">pathway</tspan></text></g>
<g id="pw-kshv-nfkb"><rect class="pw" x="1902" y="538" width="110" height="35" rx="10"/><text class="m"><tspan x="1957" y="554">NF-κB signaling</tspan><tspan x="1957" y="565.5">pathway</tspan></text></g>
<g id="pw-kshv-cc"><rect class="pw" x="1902" y="660" width="110" height="26" rx="10"/><text class="m" x="1957" y="677">Cell cycle</text></g>
<g id="pw-kshv-apop"><rect class="pw" x="1902" y="733" width="110" height="25" rx="10"/><text class="m" x="1957" y="750">Apoptosis</text></g>
<g id="pw-kshv-pi3k"><rect class="pw" x="1902" y="834" width="110" height="35" rx="10"/><text class="m"><tspan x="1957" y="850">PI3K-Akt signaling</tspan><tspan x="1957" y="861.5">pathway</tspan></text></g>

<g id="labels">
<!-- HBV -->
<text class="h" x="90" y="100">Hepatitis B virus (HBV)</text>
<text x="128" y="121">Hepatocellular carcinoma</text>
<text><tspan x="92" y="187">Viral product</tspan><tspan x="92" y="198">(encoding gene</tspan><tspan x="92" y="209">or ORF)</tspan></text>
<text><tspan x="188" y="187">Cellular</tspan><tspan x="188" y="198">target</tspan></text>
<text x="88" y="249">Oncoprotein</text>
<text x="272" y="268">Proliferation</text>
<text><tspan x="268" y="353">Viral infectivity</tspan><tspan x="268" y="364">and replication</tspan></text>
<text><tspan x="270" y="382">Inhibition of</tspan><tspan x="270" y="393">apoptosis</tspan></text>
<text x="272" y="449">Proliferation</text>
<text><tspan x="268" y="517">Inhibition of</tspan><tspan x="268" y="528">apoptosis</tspan></text>
<text><tspan x="270" y="580">Proliferation</tspan><tspan x="270" y="591">Survival</tspan></text>
<text><tspan x="272" y="664">Inhibition of</tspan><tspan x="272" y="675">apoptosis</tspan></text>
<text><tspan x="266" y="748">Inhibition of p53-</tspan><tspan x="266" y="759">mediated apoptosis</tspan><tspan x="266" y="770">Inhibition of nucleotide</tspan><tspan x="266" y="781">excision repair</tspan></text>
<text x="274" y="853">Proliferation</text>
<text x="274" y="923">Induction of FasL</text>
<text><tspan x="274" y="952">Mitochondrial</tspan><tspan x="274" y="963">dysfunction</tspan></text>
<!-- HCV -->
<text class="h" x="397" y="71">Hepatitis C virus (HCV)</text>
<text x="448" y="97">Hepatocellular carcinoma</text>
<text><tspan x="417" y="187">Viral product</tspan><tspan x="417" y="198">(encoding gene</tspan><tspan x="417" y="209">or ORF)</tspan></text>
<text><tspan x="522" y="187">Cellular</tspan><tspan x="522" y="198">target</tspan></text>
<text x="416" y="238">Oncoprotein</text>
<text><tspan x="598" y="257">Survival</tspan><tspan x="598" y="268">Proliferation</tspan></text>
<text><tspan x="594" y="329">Transcriptional</tspan><tspan x="594" y="341">activation of RARα</tspan></text>
<text><tspan x="598" y="402">Cell cycle</tspan><tspan x="598" y="413">progression</tspan></text>
<text><tspan x="594" y="463">Alteration of host</tspan><tspan x="594" y="474">cellular gene</tspan><tspan x="594" y="485">expression</tspan></text>
<text><tspan x="596" y="506">Hepatocyte growth</tspan><tspan x="596" y="517">regulation</tspan></text>
<text><tspan x="596" y="538">Stimulation/inhibition</tspan><tspan x="596" y="549">of cell proliferation</tspan></text>
<text x="542" y="592">+p</text>
<text x="416" y="601">Oncoprotein</text>
<text><tspan x="600" y="613">Alteration of host</tspan><tspan x="600" y="624">cellular gene</tspan><tspan x="600" y="635">expression?</tspan></text>
<text x="418" y="692">Oncoprotein</text>
<text><tspan x="600" y="703">Inhibition of</tspan><tspan x="600" y="714">apoptosis</tspan></text>
<text><tspan x="596" y="788">Inhibition of</tspan><tspan x="596" y="800">mitogenic signaling</tspan></text>
<text><tspan x="596" y="858">Inhibition of</tspan><tspan x="596" y="869">apoptosis</tspan></text>
<text x="596" y="920">Growth retardation</text>
<text><tspan x="598" y="941">Inhibition of</tspan><tspan x="598" y="952">transcriptional</tspan><tspan x="598" y="963">activation by p53</tspan></text>
<!-- EBV -->
<text class="h" x="714" y="71">Epstein-Barr virus (EBV)</text>
<text><tspan x="772" y="93">Burkitt's lymphoma</tspan><tspan x="772" y="104">Hodgkin's lymphoma</tspan><tspan x="772" y="115">Post transplantation lymphoma</tspan><tspan x="772" y="126">Nasopharyngeal carcinoma</tspan></text>
<text><tspan x="760" y="187">Viral product</tspan><tspan x="760" y="198">(encoding gene</tspan><tspan x="760" y="209">or ORF)</tspan></text>
<text><tspan x="852" y="187">Cellular</tspan><tspan x="852" y="198">target</tspan></text>
<text x="928" y="224">p53's degradation</text>
<text><tspan x="929" y="244">Cell cycle</tspan><tspan x="929" y="255">progression</tspan><tspan x="929" y="266">Inhibition of</tspan><tspan x="929" y="277">apoptosis</tspan></text>
<text x="742" y="387">Oncoprotein</text>
<text><tspan x="932" y="393">Transcriptional</tspan><tspan x="932" y="404">upregulation</tspan></text>
<text><tspan x="934" y="491">Transcriptional</tspan><tspan x="934" y="502">downregulation</tspan></text>
<text><tspan x="936" y="543">Inhibition of</tspan><tspan x="936" y="554">apoptosis</tspan></text>
<text x="746" y="588">Oncoprotein</text>
<text x="940" y="647">Proliferation</text>
<text x="748" y="797">Oncoprotein</text>
<text><tspan x="936" y="763">B-cell activation</tspan><tspan x="936" y="774">Survival</tspan><tspan x="936" y="786">Proliferation</tspan></text>
<text x="752" y="915">Oncoprotein</text>
<text><tspan x="932" y="924">Block of signaling from</tspan><tspan x="932" y="935">the B-cell receptor (BCR)</tspan></text>
<!-- HPV -->
<text class="h" x="1052" y="71">Human papillomavirus (HPV)</text>
<text><tspan x="1100" y="94">Cervical cancer</tspan><tspan x="1100" y="105">Anal cancer</tspan><tspan x="1100" y="116">Penile cancer</tspan><tspan x="1100" y="127">Head and neck carcinoma</tspan></text>
<text><tspan x="1082" y="187">Viral product</tspan><tspan x="1082" y="198">(encoding gene</tspan><tspan x="1082" y="209">or ORF)</tspan></text>
<text><tspan x="1168" y="187">Cellular</tspan><tspan x="1168" y="198">target</tspan></text>
<text x="1072" y="224">Oncoprotein</text>
<text x="1250" y="240">Proliferation</text>
<text x="1073" y="305">Oncoprotein</text>
<text x="1254" y="291">Inhibition of apoptosis</text>
<text x="1254" y="306">Proliferation</text>
<text><tspan x="1252" y="320">Accumulation of</tspan><tspan x="1252" y="331">mutations</tspan></text>
<text x="1253" y="399">Transformation</text>
<text><tspan x="1254" y="428">Transformation</tspan><tspan x="1254" y="440">Anchorage-independent</tspan><tspan x="1254" y="451">cell proliferation</tspan></text>
<text x="1254" y="476">Inhibition of apoptosis</text>
<text><tspan x="1254" y="497">Suppression of</tspan><tspan x="1254" y="509">Immunoresponse</tspan></text>
<text><tspan x="1254" y="568">Immortalization</tspan><tspan x="1254" y="582">Transformation</tspan></text>
<text x="1070" y="634">Oncoprotein</text>
<text><tspan x="1256" y="621">Decreasing</tspan><tspan x="1256" y="632">differentiation</tspan></text>
<text x="1254" y="664">Proliferation</text>
<text><tspan x="1256" y="726">Proliferation</tspan><tspan x="1256" y="739">HPV replication</tspan></text>
<text><tspan x="1254" y="792">Inhibition of apoptosis</tspan><tspan x="1254" y="803">Anchorage-independent</tspan><tspan x="1254" y="814">growth</tspan></text>
<text x="1252" y="828">Transformation</text>
<text x="1254" y="895">Transformation</text>
<text><tspan x="1252" y="969">Suppression of</tspan><tspan x="1252" y="980">Immunoresponse</tspan></text>
<!-- HTLV -->
<text class="h"><tspan x="1377" y="71">Human T lymphotropic</tspan><tspan x="1377" y="82">virus type 1 (HTLV-I)</tspan></text>
<text x="1434" y="106">Adult T-cell leukemia</text>
<text><tspan x="1420" y="187">Viral product</tspan><tspan x="1420" y="198">(encoding gene</tspan><tspan x="1420" y="209">or ORF)</tspan></text>
<text><tspan x="1516" y="187">Cellular</tspan><tspan x="1516" y="198">target</tspan></text>
<text x="1412" y="254">Oncoprotein</text>
<text><tspan x="1596" y="271">Transcriptional</tspan><tspan x="1596" y="282">activation</tspan></text>
<text><tspan x="1600" y="396">Survival</tspan><tspan x="1600" y="407">Proliferation</tspan></text>
<text x="1602" y="531">Transformation</text>
<text><tspan x="1600" y="613">Survival</tspan><tspan x="1600" y="624">Growth</tspan><tspan x="1600" y="635">Proliferation</tspan></text>
<text x="1598" y="737">Cell growth</text>
<text><tspan x="1596" y="802">Attenuation of</tspan><tspan x="1596" y="813">G2 arrest</tspan></text>
<text x="1604" y="876">Aneuploidy</text>
<text x="1600" y="955">DNA damages</text>
<!-- KSHV -->
<text class="h"><tspan x="1697" y="71">Kaposi's sarcoma-associated</tspan><tspan x="1697" y="82">herpesvirus (KSHV)</tspan></text>
<text><tspan x="1750" y="100">Kaposi's sarcoma</tspan><tspan x="1750" y="111">Primary effusion lymphoma</tspan><tspan x="1750" y="122">Multicentric Castleman's disease</tspan></text>
<text><tspan x="1746" y="165">Viral product</tspan><tspan x="1746" y="176">(encoding gene</tspan><tspan x="1746" y="187">or ORF)</tspan></text>
<text><tspan x="1839" y="165">Cellular</tspan><tspan x="1839" y="176">target</tspan></text>
<text x="1742" y="208">Oncoprotein</text>
<text x="1920" y="216">Anti-interferon</text>
<text x="1918" y="272">Inhibition of apoptosis</text>
<text x="1920" y="322">Anti-interferon</text>
<text x="1920" y="352">Inhibition of apoptosis</text>
<text x="1743" y="370">Oncoprotein</text>
<text><tspan x="1918" y="380">Proliferation</tspan><tspan x="1918" y="391">Angiogenesis</tspan></text>
<text><tspan x="1922" y="443">Chemoattraction</tspan><tspan x="1922" y="454">of Th2 cells</tspan></text>
<text x="1743" y="505">Oncoprotein</text>
<text><tspan x="1920" y="520">Cytokine mRNA</tspan><tspan x="1920" y="531">stability</tspan></text>
<text x="1743" y="543">Oncoprotein</text>
<text x="1922" y="588">Inhibition of apoptosis</text>
<text x="1746" y="615">Oncoprotein</text>
<text x="1746" y="654">Oncoprotein</text>
<text x="1924" y="656">Proliferation</text>
<text x="1748" y="708">Oncoprotein</text>
<text x="1926" y="725">Inhibition of apoptosis</text>
<text><tspan x="1926" y="789">Immune evasion</tspan><tspan x="1926" y="800">by KSHV</tspan></text>
<text x="1748" y="841">Oncoprotein</text>
<text><tspan x="1924" y="882">Angiogenesis</tspan><tspan x="1924" y="893">Inflammation</tspan></text>
<text><tspan x="1920" y="930">Downregulation of</tspan><tspan x="1920" y="941">myeloid cell activation</tspan></text>
<text><tspan x="1920" y="961">Shutoff of host cell</tspan><tspan x="1920" y="972">gene expression</tspan></text>
<text x="1750" y="982">Oncoprotein</text>
<text x="1926" y="998">Angiogenesis</text>
</g>
</svg>
